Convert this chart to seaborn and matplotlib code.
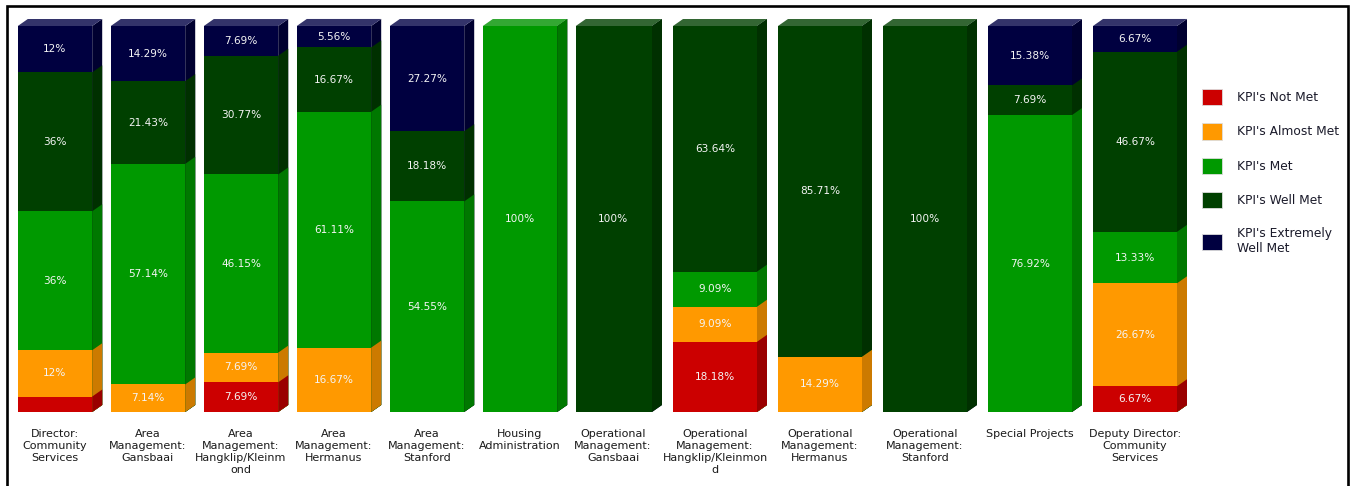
import numpy as np
import pandas as pd
import matplotlib
matplotlib.use("Agg")
import matplotlib.pyplot as plt
from matplotlib.patches import Polygon, Patch, Rectangle
from matplotlib.transforms import IdentityTransform
import seaborn as sns

# ---- data -------------------------------------------------------------
departments = [
    "Director: Community Services",
    "Area Management: Gansbaai",
    "Area Management: Hangklip/Kleinmond",
    "Area Management: Hermanus",
    "Area Management: Stanford",
    "Housing Administration",
    "Operational Management: Gansbaai",
    "Operational Management: Hangklip/Kleinmond",
    "Operational Management: Hermanus",
    "Operational Management: Stanford",
    "Special Projects",
    "Deputy Director: Community Services",
]
tick_labels = [
    "Director:\nCommunity\nServices",
    "Area\nManagement:\nGansbaai",
    "Area\nManagement:\nHangklip/Kleinm\nond",
    "Area\nManagement:\nHermanus",
    "Area\nManagement:\nStanford",
    "Housing\nAdministration",
    "Operational\nManagement:\nGansbaai",
    "Operational\nManagement:\nHangklip/Kleinmon\nd",
    "Operational\nManagement:\nHermanus",
    "Operational\nManagement:\nStanford",
    "Special Projects",
    "Deputy Director:\nCommunity\nServices",
]
not_met = [4, 0, 7.69, 0, 0, 0, 0, 18.18, 0, 0, 0, 6.67]
almost_met = [12, 7.14, 7.69, 16.67, 0, 0, 0, 9.09, 14.29, 0, 0, 26.67]
met = [36, 57.14, 46.15, 61.11, 54.55, 100, 0, 9.09, 0, 0, 76.92, 13.33]
well_met = [36, 21.43, 30.77, 16.67, 18.18, 0, 100, 63.64, 85.71, 100, 7.69, 46.67]
extremely_well_met = [12, 14.29, 7.69, 5.56, 27.27, 0, 0, 0, 0, 0, 15.38, 6.67]

series_names = ["KPI's Not Met", "KPI's Almost Met", "KPI's Met",
                "KPI's Well Met", "KPI's Extremely\nWell Met"]
front_colors = ["#CC0000", "#FF9900", "#009900", "#004000", "#000040"]
side_colors = ["#9A0000", "#CC7A00", "#007800", "#003000", "#000030"]
top_colors = ["#D83333", "#FFAD33", "#33A833", "#336633", "#33336A"]

# ---- figure -----------------------------------------------------------
sns.set_theme(style="white")
plt.rcParams["font.family"] = ["DejaVu Sans"]

W, H = 1351, 486
fig = plt.figure(figsize=(W / 100, H / 100), dpi=100)
fig.patch.set_facecolor("white")
ax = fig.add_axes([8.5 / W, 74 / H, 1179 / W, 386 / H])

stack = np.array([not_met, almost_met, met, well_met, extremely_well_met])
cum = stack.cumsum(axis=0)

# stacked bars: cumulative totals drawn from the tallest down
bars_by_series = {}
for k in reversed(range(len(series_names))):
    n0 = len(ax.patches)
    frame = pd.DataFrame({"department": departments, "value": cum[k]})
    sns.barplot(data=frame, x="department", y="value", color=front_colors[k],
                saturation=1, width=0.8, linewidth=0, ax=ax, zorder=2)
    bars_by_series[k] = ax.patches[n0:]

# the right-hand group of columns is drawn slightly wider
brk, stretch = 6.25, 105 / 93


def fwd(x):
    x = np.asarray(x, dtype=float)
    return np.where(x <= brk, x, brk + (x - brk) * stretch)


def inv(x):
    x = np.asarray(x, dtype=float)
    return np.where(x <= brk, x, brk + (x - brk) / stretch)


ax.set_xscale("function", functions=(fwd, inv))
ax.set_xlim(-0.5, 11.5)
ax.set_ylim(0, 100)

# ---- 3D faces (right side and top) ------------------------------------
dx, dy = 10, 7
to_px = ax.transData.transform
for k in reversed(range(len(series_names))):
    for p in bars_by_series[k]:
        x0, w, h = p.get_x(), p.get_width(), p.get_height()
        if h <= 0:
            continue
        (X1, Y0), = to_px([(x0 + w, 0)])
        (_, Y1), = to_px([(x0 + w, h)])
        side = Polygon([(X1, Y0), (X1, Y1), (X1 + dx, Y1 + dy), (X1 + dx, Y0 + dy)],
                       closed=True, facecolor=side_colors[k], edgecolor="none",
                       transform=IdentityTransform(), clip_on=False, zorder=2)
        ax.add_patch(side)

for i in range(len(departments)):
    p = bars_by_series[len(series_names) - 1][i]
    x0, w = p.get_x(), p.get_width()
    total = cum[-1][i]
    top_k = max(k for k in range(len(series_names)) if stack[k][i] > 0)
    (X0, Y1), (X1, _) = to_px([(x0, total), (x0 + w, total)])
    top = Polygon([(X0, Y1), (X1, Y1), (X1 + dx, Y1 + dy), (X0 + dx, Y1 + dy)],
                  closed=True, facecolor=top_colors[top_k], edgecolor="none",
                  transform=IdentityTransform(), clip_on=False, zorder=2)
    ax.add_patch(top)

# ---- value labels -----------------------------------------------------
for k in range(len(series_names)):
    for i, v in enumerate(stack[k]):
        if v >= 5:
            ax.text(i, cum[k][i] - v / 2, f"{v:g}%", ha="center", va="center",
                    fontsize=7.6, color="#F4F4F4", zorder=5)

# ---- axes cosmetics ---------------------------------------------------
ax.set_xticks(range(len(departments)))
ax.set_xticklabels(tick_labels, fontsize=8, color="#1A1A1A", linespacing=1.25)
ax.tick_params(axis="x", length=0, pad=12)
ax.set_yticks([])
ax.set_xlabel("")
ax.set_ylabel("")
for s in ax.spines.values():
    s.set_visible(False)
ax.set_facecolor("none")

# ---- legend -----------------------------------------------------------
handles = [Patch(facecolor=c, edgecolor="#DDDDDD", linewidth=0.6) for c in front_colors]
fig.legend(handles, series_names, loc="upper left",
           bbox_to_anchor=(1202 / W, 1 - 89 / H), bbox_transform=fig.transFigure,
           frameon=False, fontsize=8.8, handlelength=1.65, handleheight=1.65,
           handletextpad=1.2, labelspacing=1.5, borderpad=0, borderaxespad=0,
           labelcolor="#1A1A2A")

# ---- outer frame ------------------------------------------------------
fig.add_artist(Rectangle((6.5 / W, -0.05), (1348 - 6.5) / W, 1 - 6 / H + 0.05,
                         transform=fig.transFigure, fill=False,
                         edgecolor="black", linewidth=1.9))

fig.savefig("out.png", dpi=100)
